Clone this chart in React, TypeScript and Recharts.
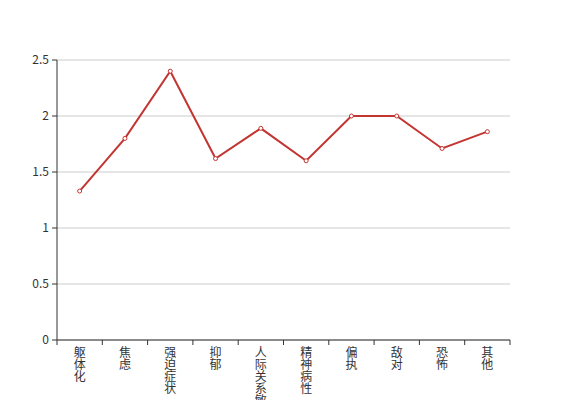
import React from 'react';
import { LineChart, Line, XAxis, YAxis, CartesianGrid } from 'recharts';

const categories = ['躯体化', '焦虑', '强迫症状', '抑郁', '人际关系敏感', '精神病性', '偏执', '敌对', '恐怖', '其他'];
const scores = [1.33, 1.8, 2.4, 1.62, 1.89, 1.6, 2.0, 2.0, 1.71, 1.86];
const yTicks = [0, 0.5, 1, 1.5, 2, 2.5];

const data = categories.map((name, i) => ({ name, value: scores[i] }));

const W = 567;
const H = 400;
const M = { top: 60, right: 57, bottom: 0, left: 0 };
const Y_AXIS_W = 57;
const BAND = (W - M.left - M.right - Y_AXIS_W) / categories.length;
const FONT = '"Noto Sans CJK SC", "Noto Sans", sans-serif';

// vertical labels, one character per row, tick marks on band edges
function CategoryTick(props: any) {
  const { x, y, payload, index } = props;
  const chars = String(payload.value).split('');
  const top = y - 8;
  return (
    <g>
      <line x1={x - BAND / 2} x2={x - BAND / 2} y1={top} y2={top + 5} stroke="#333" />
      {index === categories.length - 1 && (
        <line x1={x + BAND / 2} x2={x + BAND / 2} y1={top} y2={top + 5} stroke="#333" />
      )}
      <text x={x} y={top + 17} textAnchor="middle" fontSize={12} fill="#333" fontFamily={FONT}>
        {chars.map((c, i) => (
          <tspan key={i} x={x} dy={i === 0 ? 0 : 12}>{c}</tspan>
        ))}
      </text>
    </g>
  );
}

export default function App() {
  return (
    <div style={{ position: 'absolute', left: 0, top: 0, width: W, height: H, background: '#fff' }}>
      <LineChart width={W} height={H} data={data} margin={M}>
        <CartesianGrid horizontal vertical={false} stroke="#ccc" />
        <XAxis
          dataKey="name"
          interval={0}
          height={60}
          padding={{ left: BAND / 2, right: BAND / 2 }}
          axisLine={{ stroke: '#333' }}
          tickLine={false}
          tick={<CategoryTick />}
        />
        <YAxis
          width={Y_AXIS_W}
          domain={[0, 2.5]}
          ticks={yTicks}
          axisLine={{ stroke: '#333' }}
          tickLine={{ stroke: '#333' }}
          tickSize={5}
          tickMargin={3}
          tick={{ fontSize: 12, fill: '#333', fontFamily: FONT }}
        />
        <Line
          type="linear"
          dataKey="value"
          stroke="#c23531"
          strokeWidth={2}
          dot={{ r: 2, fill: '#fff', stroke: '#c23531', strokeWidth: 1 }}
          isAnimationActive={false}
        />
      </LineChart>
    </div>
  );
}
